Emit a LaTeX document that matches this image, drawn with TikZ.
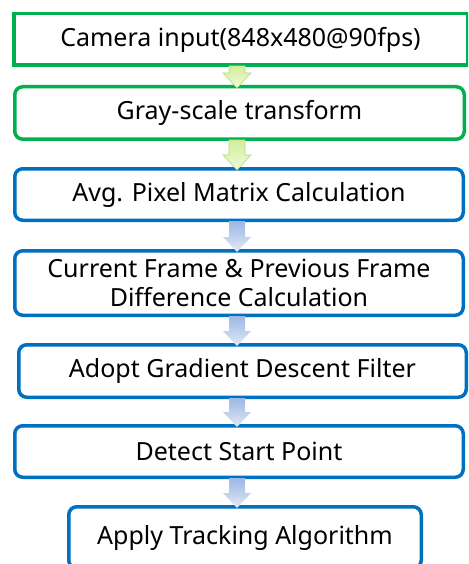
\documentclass[tikz,border=0pt]{standalone}
\usepackage{fontspec}
\setmainfont{Noto Sans}
\usetikzlibrary{calc}

\definecolor{boxgreen}{HTML}{00B050}
\definecolor{boxblue}{HTML}{0070C0}
\definecolor{arrowgreentop}{HTML}{D2EE9C}
\definecolor{arrowgreenbot}{HTML}{F0FADC}
\definecolor{arrowgreenline}{HTML}{B4DC78}
\definecolor{arrowbluetop}{HTML}{9DB6E4}
\definecolor{arrowbluebot}{HTML}{E2EAF7}

% block arrow between two boxes: style, from, to
\newcommand{\flowstep}[3]{%
  \shade[#1] ($(ax |- #2.south)+(-8,1)$) -- ($(ax |- #2.south)+(8,1)$)
    -- ($(ax |- #3.north)+(8,12)$) -- ($(ax |- #3.north)+(14,12)$)
    -- ($(ax |- #3.north)+(0,-3)$) -- ($(ax |- #3.north)+(-14,12)$)
    -- ($(ax |- #3.north)+(-8,12)$) -- cycle;
}

\begin{document}
\begin{tikzpicture}[x=1pt,y=1pt,
    stage/.style={draw,line width=3.5pt,fill=white,font=\fontsize{25}{29}\selectfont,
      align=center,inner sep=0pt},
    greenstage/.style={stage,draw=boxgreen},
    bluestage/.style={stage,draw=boxblue,rounded corners=8pt},
    greenarrow/.style={top color=arrowgreentop,bottom color=arrowgreenbot,
      draw=arrowgreenline,line width=0.6pt},
    bluearrow/.style={top color=arrowbluetop,bottom color=arrowbluebot,draw=none}]
    \clip (0,0) rectangle (468,-564);
    \fill[white] (0,0) rectangle (468,-564);
    \coordinate (ax) at (237,0);

    \node[greenstage,minimum width=453.5pt,minimum height=51.5pt] (camera) at (240.5,-39.5) {Camera input(848x480@90fps)};
    \node[greenstage,rounded corners=8pt,minimum width=449.5pt,minimum height=52.5pt] (gray) at (239.5,-113) {Gray-scale transform};
    \node[bluestage,minimum width=448.5pt,minimum height=51.5pt] (avg) at (239,-194.5) {Avg. Pixel Matrix Calculation};
    \node[bluestage,minimum width=448.5pt,minimum height=64.5pt] (diff) at (239,-283) {Current Frame \& Previous Frame\\Difference Calculation};
    \node[bluestage,minimum width=447.5pt,minimum height=52.5pt] (filter) at (242.5,-371) {Adopt Gradient Descent Filter};
    \node[bluestage,minimum width=448.5pt,minimum height=51.5pt] (start) at (239,-451.5) {Detect Start Point};
    \node[bluestage,minimum width=352.5pt,minimum height=61.5pt] (track) at (245,-537.5) {Apply Tracking Algorithm};

    \flowstep{greenarrow}{camera}{gray}
    \flowstep{greenarrow}{gray}{avg}
    \flowstep{bluearrow}{avg}{diff}
    \flowstep{bluearrow}{diff}{filter}
    \flowstep{bluearrow}{filter}{start}
    \flowstep{bluearrow}{start}{track}
\end{tikzpicture}
\end{document}
